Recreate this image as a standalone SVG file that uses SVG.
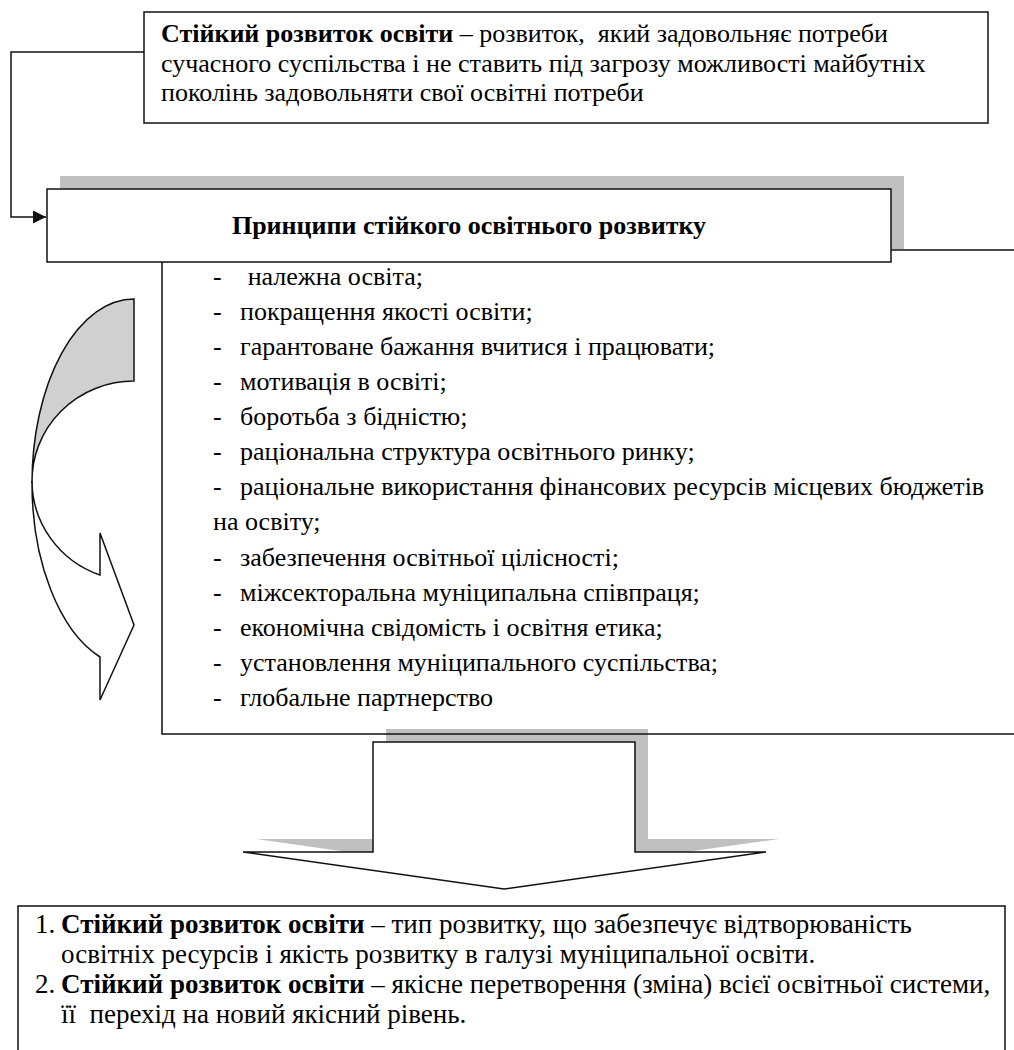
<svg xmlns="http://www.w3.org/2000/svg" width="1014" height="1050" viewBox="0 0 1014 1050">
<defs>
<style>
.box{fill:#fff;stroke:#111;stroke-width:1.5}
.open{fill:none;stroke:#111;stroke-width:1.5}
.shadow{fill:#c0c0c0;stroke:none}
.b{font-weight:bold}
.line{fill:none;stroke:#111;stroke-width:1.5}
.txt{font-family:"Liberation Serif","Times New Roman",serif;font-size:26px;fill:#000}
.big{font-size:27px}
</style>
<marker id="ah" markerWidth="13" markerHeight="13" refX="13" refY="6.5" orient="auto" markerUnits="userSpaceOnUse">
<path d="M0,0 L13,6.5 L0,13 Z" fill="#111"/>
</marker>
</defs>
<rect width="1014" height="1050" fill="#fff"/>

<g id="connectors">
<polyline class="line" points="144,52 11,52 11,217 46,217" marker-end="url(#ah)"/>
</g>

<g class="txt">

<g id="definition-top">
<rect class="box" x="144" y="12" width="844" height="111"/>
<text x="161" y="42" xml:space="preserve"><tspan class="b">Стійкий розвиток освіти</tspan> – розвиток,  який задовольняє потреби</text>
<text x="161" y="72">сучасного суспільства і не ставить під загрозу можливості майбутніх</text>
<text x="161" y="101">поколінь задовольняти свої освітні потреби</text>
</g>

<g id="arrow-shadow">
<polygon class="shadow" points="386,729 648,729 648,839 779,839 517,876 256,839 386,839"/>
</g>

<g id="principles-list">
<rect class="open" x="162" y="250" width="870" height="484"/>
<text x="213" y="285" xml:space="preserve">-    належна освіта;</text>
<text x="213" y="320">-</text><text x="240" y="320">покращення якості освіти;</text>
<text x="213" y="355">-</text><text x="240" y="355">гарантоване бажання вчитися і працювати;</text>
<text x="213" y="390">-</text><text x="240" y="390">мотивація в освіті;</text>
<text x="213" y="425">-</text><text x="240" y="425">боротьба з бідністю;</text>
<text x="213" y="460">-</text><text x="240" y="460">раціональна структура освітнього ринку;</text>
<text x="213" y="495">-</text><text x="240" y="495">раціональне використання фінансових ресурсів місцевих бюджетів</text>
<text x="213" y="530">на освіту;</text>
<text x="213" y="566">-</text><text x="240" y="566">забезпечення освітньої цілісності;</text>
<text x="213" y="601">-</text><text x="240" y="601">міжсекторальна муніципальна співпраця;</text>
<text x="213" y="636">-</text><text x="240" y="636">економічна свідомість і освітня етика;</text>
<text x="213" y="671">-</text><text x="240" y="671">установлення муніципального суспільства;</text>
<text x="213" y="706">-</text><text x="240" y="706">глобальне партнерство</text>
</g>

<g id="principles-header">
<rect class="shadow" x="60" y="176" width="844" height="73"/>
<rect class="box" x="47" y="189" width="844" height="73"/>
<text class="b" x="469" y="234" text-anchor="middle">Принципи стійкого освітнього розвитку</text>
</g>

<g id="curved-arrow">
<path d="M134,299 A102,184 0 0 0 32,483 A102,100 0 0 1 134,381 Z" fill="#d0d0d0" stroke="#111" stroke-width="1.5"/>
<path d="M32,483 A102,184 0 0 0 100,657 L100,700 L134,625 L100,533 L100,575 A102,100 0 0 1 32,481 Z" fill="#fff" stroke="#111" stroke-width="1.5"/>
</g>

<g id="down-arrow">
<polygon class="box" points="373,742 635,742 635,852 766,852 504,889 243,852 373,852"/>
</g>

<g id="definitions-bottom" class="big">
<rect class="box" x="18" y="906" width="987" height="160"/>
<text x="35" y="933">1.</text>
<text x="61" y="933"><tspan class="b">Стійкий розвиток освіти</tspan> – тип розвитку, що забезпечує відтворюваність</text>
<text x="61" y="963">освітніх ресурсів і якість розвитку в галузі муніципальної освіти.</text>
<text x="35" y="993">2.</text>
<text x="61" y="993"><tspan class="b">Стійкий розвиток освіти</tspan> – якісне перетворення (зміна) всієї освітньої системи,</text>
<text x="61" y="1023" xml:space="preserve">її  перехід на новий якісний рівень.</text>
</g>

</g>
</svg>
